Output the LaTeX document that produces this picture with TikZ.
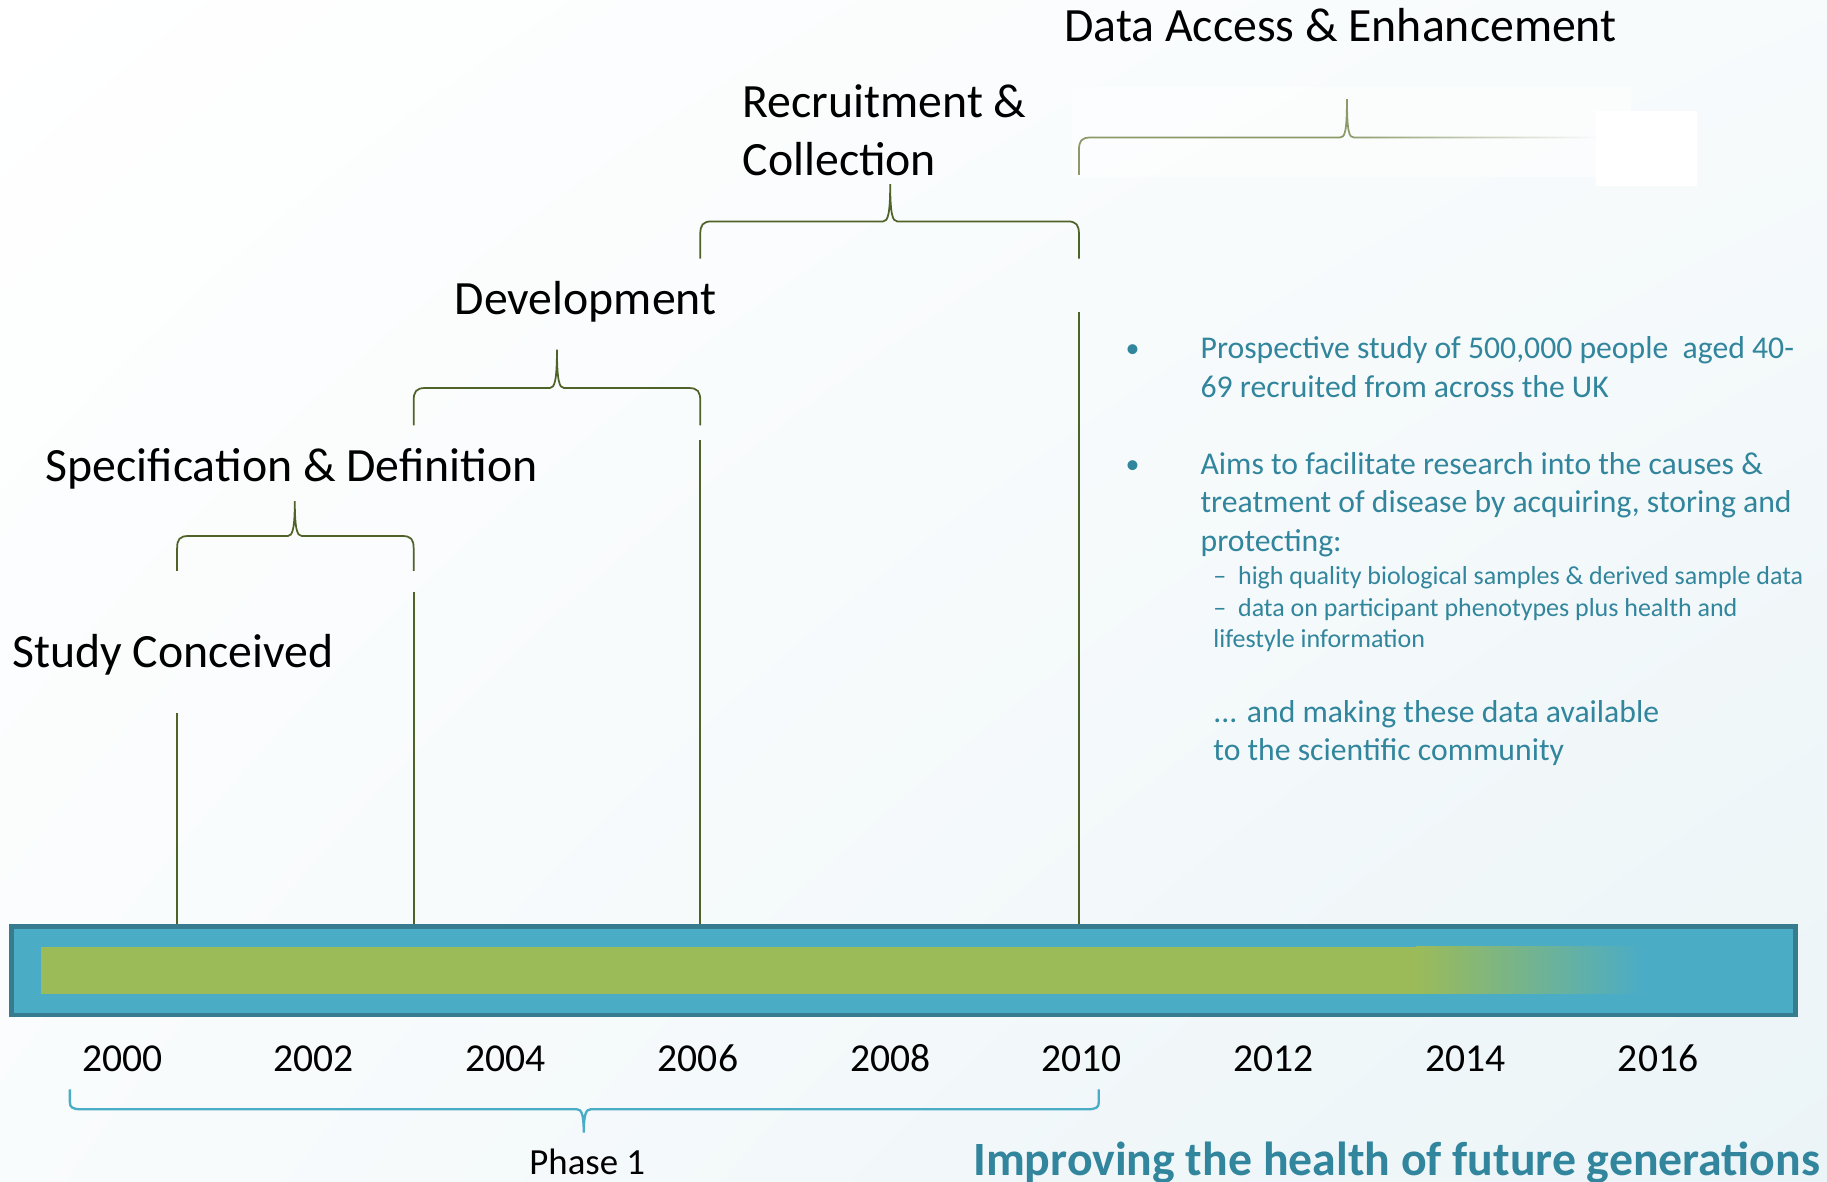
\documentclass[tikz,border=0pt]{standalone}
\usepackage{fontspec}
\setmainfont{Carlito}
\usetikzlibrary{fadings,shadings}
\definecolor{olive}{HTML}{4F6228}
\definecolor{olivelight}{HTML}{8C9A6A}
\definecolor{barblue}{HTML}{4BACC6}
\definecolor{bardark}{HTML}{367C8E}
\definecolor{bargreen}{HTML}{9BBB59}
\definecolor{teal}{HTML}{31859C}
\definecolor{bgright}{HTML}{EBF4F7}
\newcommand{\bracepath}[6]{(#1,#4) -- (#1,{#5+0.35*(#4-#5)}) .. controls (#1,{#5+0.1*(#4-#5)}) and ({#1+2},#5) .. ({#1+10},#5) -- ({#3-6},#5) .. controls ({#3-2},#5) and (#3,{#5+0.2*(#6-#5)}) .. (#3,#6) .. controls (#3,{#5+0.2*(#6-#5)}) and ({#3+2},#5) .. ({#3+6},#5) -- ({#2-10},#5) .. controls ({#2-2},#5) and (#2,{#5+0.1*(#4-#5)}) .. (#2,{#5+0.35*(#4-#5)}) -- (#2,#4)}
\begin{document}
\begin{tikzpicture}[x=0.5pt,y=-0.5pt,
  heading/.style={anchor=base west,inner sep=0pt,font=\fontsize{20.5}{25}\selectfont,align=left},
  year/.style={anchor=base,inner sep=0pt,font=\fontsize{17}{20}\selectfont},
  phase/.style={anchor=base,inner sep=0pt,font=\fontsize{15.8}{18}\selectfont},
  bodytext/.style={anchor=base west,inner sep=0pt,text=teal,font=\fontsize{13.6}{16.5}\selectfont,align=left},
  subtext/.style={anchor=base west,inner sep=0pt,text=teal,font=\fontsize{11.15}{13.5}\selectfont,align=left},
  bul/.style={anchor=base,inner sep=0pt,text=teal,font=\fontsize{12}{16.5}\selectfont},
  slogan/.style={anchor=base west,inner sep=0pt,text=teal,font=\fontsize{20.5}{24}\selectfont\bfseries},
  brace/.style={draw=olive,line width=0.75pt},
  stem/.style={draw=olive,line width=0.75pt}]
\useasboundingbox (0,0) rectangle (1568,1014.4);
\shade[upper left=white,upper right=white!60!bgright,lower left=white!70!bgright,lower right=bgright] (0,0) rectangle (1568,1014.4);

% faint areas near top brace
\fill[white,opacity=0.5] (920,75) rectangle (1400,152);
\fill[white] (1370,95) rectangle (1456,160);

% headings (base = baseline of last line)
\node[heading] (h5) at (913,36) {Data Access \& Enhancement};
\node[heading] (h4) at (637,151) {Recruitment \&\\Collection};
\node[heading] (h3) at (390,270) {Development};
\node[heading] (h2) at (39,413) {Specification \& Definition};
\node[heading] (h1) at (10,573) {Study Conceived};

% braces
\draw[brace] \bracepath{152}{355}{253}{490}{460}{430};
\draw[brace] \bracepath{355}{601}{478}{365}{333}{300};
\draw[brace] \bracepath{601}{926}{764}{222}{190}{158};
\draw[draw=olivelight,line width=0.75pt] (926,150) -- (926,129) .. controls (926,121) and (928,118) .. (936,118) -- (1150,118) .. controls (1154,118) and (1156,114) .. (1156,85);
\draw[draw=olivelight,line width=0.75pt,path fading=east] (1156,85) .. controls (1156,114) and (1158,118) .. (1162,118) -- (1370,118);

% stems
\coordinate (s1t) at (152,612); \coordinate (s1b) at (152,795);
\coordinate (s2t) at (355,508); \coordinate (s2b) at (355,795);
\coordinate (s3t) at (601,378); \coordinate (s3b) at (601,795);
\coordinate (s4t) at (926,268); \coordinate (s4b) at (926,795);
\draw[stem] (s1t) -- (s1b);
\draw[stem] (s2t) -- (s2b);
\draw[stem] (s3t) -- (s3b);
\draw[stem] (s4t) -- (s4b);

% timeline bar
\node[draw=bardark,fill=barblue,line width=2pt,rectangle,minimum width=1531*0.5pt,minimum height=76*0.5pt,inner sep=0pt] (bar) at (775.5,833) {};
\fill[bargreen] (35,813) rectangle (1216,853);
\shade[left color=bargreen,right color=barblue] (1215,812) rectangle (1410,853);

% years
\foreach \yr/\xx in {2000/105,2002/269,2004/434,2006/599,2008/764,2010/928,2012/1093,2014/1258,2016/1423}
  \node[year] (y\yr) at (\xx,920) {\yr};

% phase brace
\draw[draw=barblue,line width=1pt] \bracepath{60}{943}{501}{935}{952}{972};
\node[phase] (phase) at (504,1008) {Phase 1};

% right text (base = baseline of last line)
\node[bul] (b1) at (972,307) {•};
\node[bodytext] (t1) at (1030,341) {Prospective study of 500,000 people\ \ aged 40-\\69 recruited from across the UK};
\node[bul] (b2) at (972,406) {•};
\node[bodytext] (t2) at (1030,473) {Aims to facilitate research into the causes \&\\treatment of disease by acquiring, storing and\\protecting:};
\node[subtext] (t3) at (1041,556) {–\ \ high quality biological samples \& derived sample data\\–\ \ data on participant phenotypes plus health and\\lifestyle information};
\node[bodytext] (t4) at (1041,653) {... and making these data available\\to the scientific community};

\node[slogan] (slogan) at (835,1009) {Improving the health of future generations};
\end{tikzpicture}
\end{document}
